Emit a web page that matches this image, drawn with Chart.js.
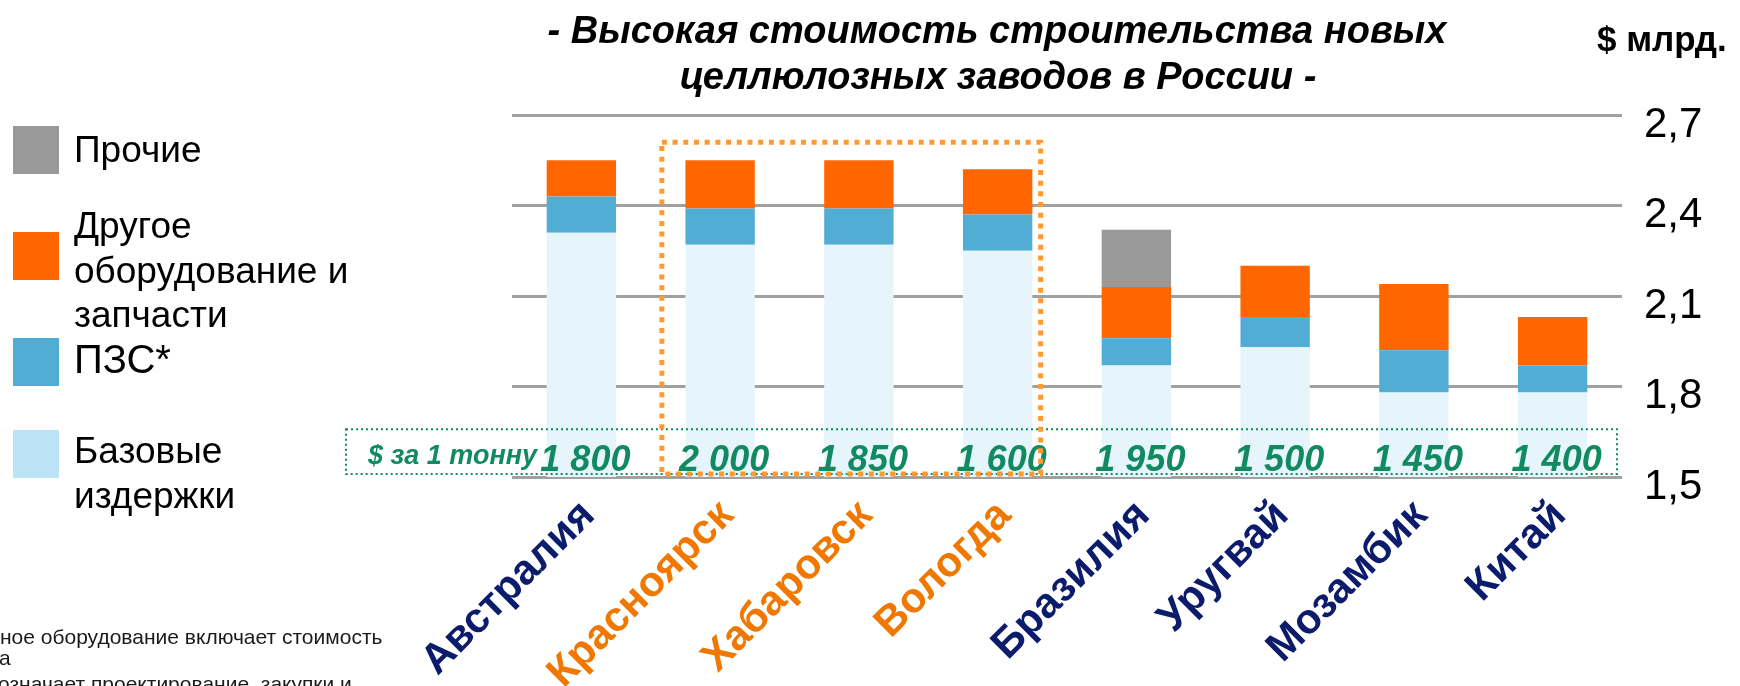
<!DOCTYPE html>
<html>
<head>
<meta charset="utf-8">
<script src="https://cdn.jsdelivr.net/npm/chart.js@4.4.1/dist/chart.umd.min.js"></script>
<style>
  html, body { margin: 0; padding: 0; background: #fff; }
  #chart { display: block; }
</style>
</head>
<body>
<canvas id="chart" width="1740" height="686"></canvas>
<script>
// values, $ bn
const categories = ["Австралия", "Красноярск", "Хабаровск", "Вологда", "Бразилия", "Уругвай", "Мозамбик", "Китай"];
const baseCost = [2.31, 2.27, 2.27, 2.25, 1.87, 1.93, 1.78, 1.78];
const epcCost = [0.12, 0.12, 0.12, 0.12, 0.09, 0.10, 0.14, 0.09];
const equipCost = [0.12, 0.16, 0.16, 0.15, 0.17, 0.17, 0.22, 0.16];
const otherCost = [0, 0, 0, 0, 0.19, 0, 0, 0];
const perTon = [1800, 2000, 1850, 1600, 1950, 1500, 1450, 1400];
const russianSites = ["Красноярск", "Хабаровск", "Вологда"];
const yTicks = [1.5, 1.8, 2.1, 2.4, 2.7];

const FONT = "'Liberation Sans', Arial, sans-serif";
const NAVY = "#0c1c6c";
const ORANGE_TXT = "#f07800";
const GREEN = "#118a62";

const legendItems = [
  { lines: ["Прочие"], color: "#999999" },
  { lines: ["Другое", "оборудование и", "запчасти"], color: "#ff6600" },
  { lines: ["ПЗС*"], color: "#52add5" },
  { lines: ["Базовые", "издержки"], color: "#bde3f7" },
];

const fmtTon = (v) => String(v).replace(/\B(?=(\d{3})+(?!\d))/g, " ");

const decor = {
  id: "decor",
  afterDatasetsDraw(chart) {
    const ctx = chart.ctx;
    const x = chart.scales.x;
    const y = chart.scales.y;
    const area = chart.chartArea;

    // green "per ton" strip
    ctx.save();
    ctx.strokeStyle = GREEN;
    ctx.lineWidth = 2;
    ctx.setLineDash([2, 3]);
    const gTop = y.getPixelForValue(1.658);
    ctx.strokeRect(346, gTop, area.right - 5 - 346, area.bottom - 3 - gTop);
    ctx.setLineDash([]);
    ctx.fillStyle = GREEN;
    ctx.textBaseline = "alphabetic";
    ctx.font = "italic bold 27px " + FONT;
    ctx.textAlign = "left";
    ctx.fillText("$ за 1 тонну", 368, 464);
    ctx.font = "italic bold 36px " + FONT;
    ctx.textAlign = "center";
    perTon.forEach((v, i) => {
      ctx.fillText(fmtTon(v), x.getPixelForValue(i) + 4, 471);
    });
    ctx.restore();

    // orange box around the Russian sites
    const idx = russianSites.map((s) => categories.indexOf(s));
    const cw = x.getPixelForValue(1) - x.getPixelForValue(0);
    const bl = x.getPixelForValue(Math.min(...idx)) - 0.42 * cw;
    const br = x.getPixelForValue(Math.max(...idx)) + 0.31 * cw;
    const bt = y.getPixelForValue(2.61);
    const bb = area.bottom - 3;
    ctx.save();
    ctx.strokeStyle = "#ff9a33";
    ctx.lineWidth = 5;
    ctx.setLineDash([5, 5.7]);
    ctx.strokeRect(bl, bt, br - bl, bb - bt);
    ctx.restore();
  },
  afterDraw(chart) {
    const ctx = chart.ctx;
    ctx.save();
    ctx.fillStyle = "#000";
    ctx.textBaseline = "alphabetic";
    ctx.textAlign = "center";
    ctx.font = "italic bold 38px " + FONT;
    ctx.fillText("- Высокая стоимость строительства новых", 997, 43);
    ctx.fillText("целлюлозных заводов в России -", 998, 89);
    ctx.textAlign = "left";
    ctx.font = "bold 35px " + FONT;
    ctx.fillText("$ млрд.", 1597, 51);

    // legend
    const tops = [126, 232, 338, 430];
    const firstBase = [162, 238, 373, 463];
    legendItems.forEach((it, i) => {
      ctx.fillStyle = it.color;
      ctx.fillRect(13, tops[i], 46, 48);
      ctx.fillStyle = "#000";
      ctx.font = (i === 2 ? 40 : 37) + "px " + FONT;
      it.lines.forEach((ln, j) => ctx.fillText(ln, 74, firstBase[i] + j * 44.5));
    });

    // footnote, cut off by the picture edge
    ctx.fillStyle = "#1a1a1a";
    ctx.font = "21px " + FONT;
    ctx.fillText("ное оборудование включает стоимость", 0, 644);
    ctx.fillText("а", -1, 665);
    ctx.fillText("означает проектирование, закупки и", -2, 691);
    ctx.restore();
  },
};

new Chart(document.getElementById("chart"), {
  type: "bar",
  data: {
    labels: categories,
    datasets: [
      { label: "Базовые издержки", data: baseCost, backgroundColor: "#e6f4fb" },
      { label: "ПЗС*", data: epcCost, backgroundColor: "#52add5" },
      { label: "Другое оборудование и запчасти", data: equipCost, backgroundColor: "#ff6600" },
      { label: "Прочие", data: otherCost, backgroundColor: "#999999" },
    ],
  },
  options: {
    responsive: false,
    animation: false,
    layout: { padding: { left: 512, top: 115, right: 0, bottom: 0 } },
    datasets: { bar: { barPercentage: 0.5, categoryPercentage: 1 } },
    plugins: { legend: { display: false }, tooltip: { enabled: false } },
    scales: {
      x: {
        stacked: true,
        grid: { display: false, drawTicks: false },
        border: { display: false },
        ticks: {
          minRotation: 45,
          maxRotation: 45,
          padding: 14,
          labelOffset: 7,
          font: { family: FONT, size: 42, weight: "bold" },
          color: (c) => (russianSites.includes(categories[c.index]) ? ORANGE_TXT : NAVY),
        },
        afterFit: (s) => { s.height = 209; },
      },
      y: {
        stacked: true,
        position: "right",
        min: 1.5,
        max: 2.7,
        afterBuildTicks: (s) => { s.ticks = yTicks.map((v) => ({ value: v })); },
        ticks: {
          padding: 22,
          labelOffset: 10,
          color: "#000",
          font: { family: FONT, size: 42 },
          callback: (v) => v.toFixed(1).replace(".", ","),
        },
        grid: { color: "#a0a0a0", lineWidth: 3, drawTicks: false },
        border: { display: false },
        afterFit: (s) => { s.width = 118; },
      },
    },
  },
  plugins: [decor],
});
</script>
</body>
</html>
